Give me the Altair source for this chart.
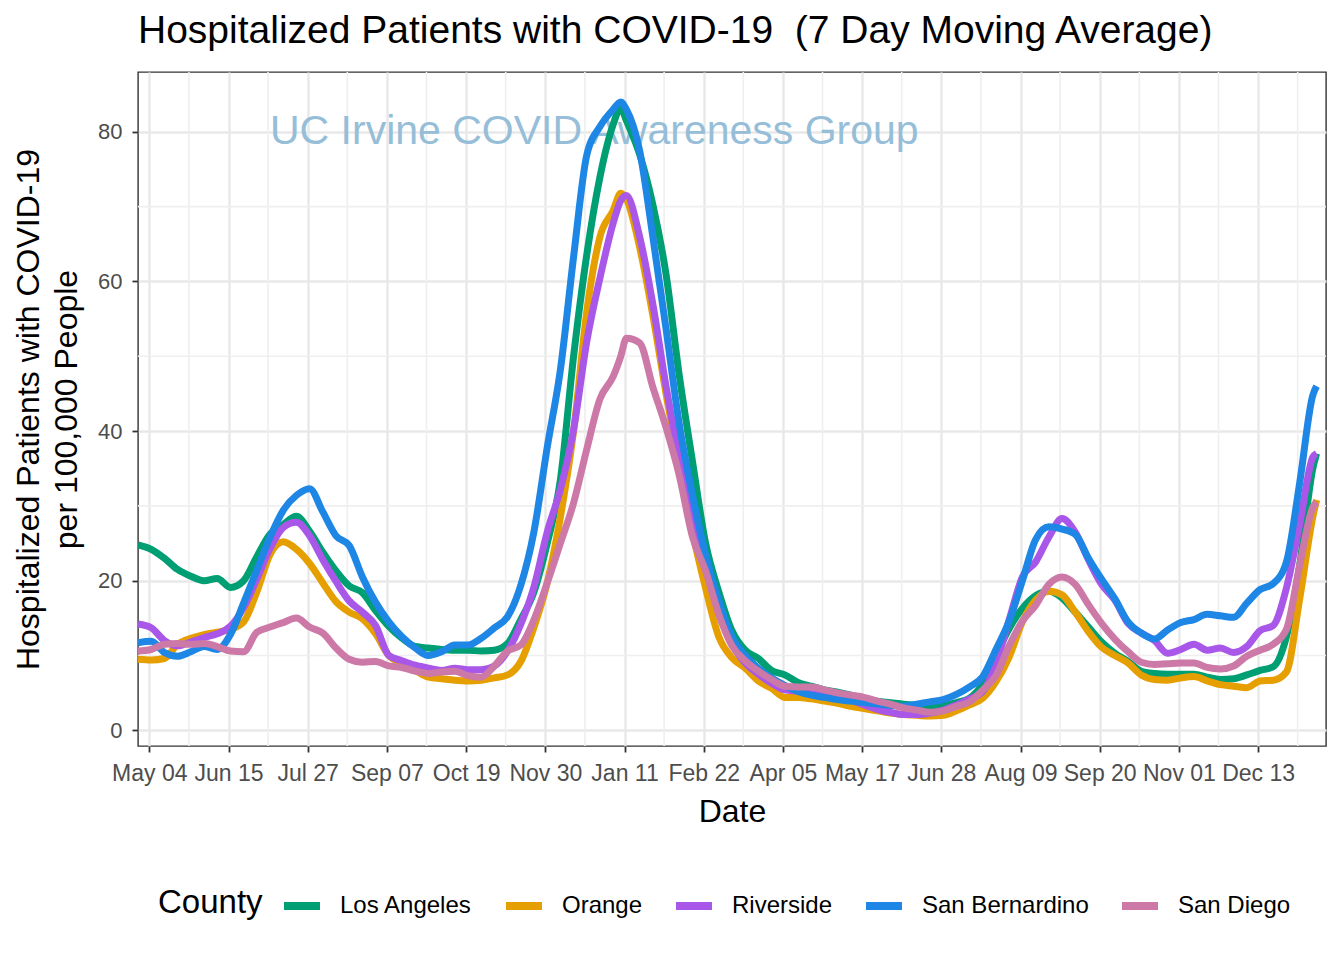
import altair as alt
import pandas as pd

FONT = "Liberation Sans"

counties = ["Los Angeles", "Orange", "Riverside", "San Bernardino", "San Diego"]
colors = ["#009E73", "#E69F00", "#A957E8", "#1E86E5", "#CC79A7"]

# weekly dates from 2020-04-28, plus the January 2021 peak and the last day
weekly = pd.date_range("2020-04-28", periods=90, freq="7D")
dates = (list(weekly[:37]) + [pd.Timestamp("2021-01-09")]
         + list(weekly[37:]) + [pd.Timestamp("2022-01-13")])
date_strs = [d.strftime("%Y-%m-%d") for d in dates]

los_angeles = [
    24.8, 24.2, 23.0, 21.5, 20.6, 20.0, 20.3, 19.1, 20.0, 23.2,
    26.2, 27.5, 28.6, 26.6, 23.8, 21.3, 19.3, 18.4, 16.0, 13.9,
    12.3, 11.2, 11.0, 10.8, 10.7, 10.7, 10.6, 10.7, 11.6, 14.8,
    18.5, 25.0, 33.5, 50.0, 63.6, 74.0, 81.0,
    83.2,
    81.5, 77.0, 70.3,
    61.0, 47.5, 36.0, 25.0, 18.5, 13.3, 10.7, 9.6, 8.0, 7.4,
    6.4, 5.9, 5.4, 5.1, 4.7, 4.2, 3.9, 3.7, 3.5, 3.3,
    3.1, 3.3, 3.7, 4.3, 6.2, 10.0, 13.6, 16.3, 18.0, 18.6,
    17.7, 15.8, 13.8, 11.8, 10.3, 9.2, 7.9, 7.6, 7.5, 7.5,
    7.5, 7.1, 6.8, 6.9, 7.4, 8.0, 8.5, 12.5, 22.0, 35.0,
    37.0,
]
orange = [
    9.5, 9.4, 9.6, 11.5, 12.3, 12.8, 13.1, 13.5, 14.5, 18.5,
    23.5, 25.2, 24.2, 22.3, 19.7, 17.2, 15.8, 14.9, 12.9, 10.0,
    8.9, 8.0, 7.1, 6.9, 6.7, 6.6, 6.7, 7.0, 7.4, 9.2,
    13.8, 19.7, 28.5, 40.0, 56.0, 66.0, 69.5,
    71.8,
    71.0, 64.6, 55.5,
    45.0, 35.3, 26.5, 19.0, 12.5, 9.7, 8.3, 6.6, 5.6, 4.4,
    4.4, 4.2, 3.9, 3.6, 3.2, 2.9, 2.6, 2.3, 2.1, 2.0,
    1.9, 2.0, 2.6, 3.4, 4.3, 6.5, 9.8, 14.5, 17.4, 18.6,
    18.1, 15.8, 13.2, 11.1, 10.0, 9.0, 7.4, 6.8, 6.7, 7.0,
    7.2, 6.6, 6.1, 5.9, 5.7, 6.6, 6.7, 7.8, 17.5, 28.5,
    30.8,
]
riverside = [
    14.2, 13.7, 12.0, 11.3, 11.8, 12.4, 12.9, 13.9, 16.4, 20.2,
    24.3, 27.1, 27.8, 26.0, 22.8, 19.9, 17.3, 15.8, 14.0, 10.0,
    9.3, 8.7, 8.3, 8.0, 8.3, 8.1, 8.1, 8.6, 10.6, 14.2,
    19.2, 26.5, 32.2, 40.2, 52.0, 60.5, 67.8,
    70.8,
    71.5, 66.0, 57.0,
    46.0, 36.4, 28.0, 22.0, 16.0, 11.5, 9.0, 7.5, 6.3, 5.4,
    5.2, 4.9, 4.7, 4.3, 4.0, 3.4, 2.8, 2.4, 2.1, 2.1,
    2.3, 2.7, 3.4, 4.2, 5.2, 8.9, 14.8, 20.5, 22.5, 25.8,
    28.3, 26.5, 22.8, 19.5, 17.4, 14.3, 13.0, 12.0, 10.3, 10.8,
    11.5, 10.7, 11.0, 10.4, 11.2, 13.3, 14.0, 19.0, 27.5, 36.5,
    37.0,
]
san_bernardino = [
    11.7, 11.9, 10.4, 9.9, 10.5, 11.2, 10.8, 12.8, 17.0, 21.4,
    25.8, 29.4, 31.4, 32.3, 29.2, 26.0, 24.7, 20.5, 17.1, 14.5,
    12.5, 11.0, 10.0, 10.5, 11.4, 11.4, 12.3, 13.7, 15.2, 19.4,
    26.6, 37.8, 48.2, 63.3, 76.9, 80.7, 83.0,
    84.0,
    83.0, 77.5, 66.0,
    53.7, 41.0, 31.5, 23.5, 17.3, 12.5, 10.0, 8.3, 7.0, 6.0,
    5.2, 4.7, 4.4, 4.1, 3.9, 3.7, 3.5, 3.3, 3.2, 3.5,
    3.8, 4.1, 4.8, 5.8, 7.2, 10.8, 14.6, 20.0, 25.5, 27.2,
    26.9, 26.2, 23.0, 20.2, 17.6, 14.5, 13.0, 12.2, 13.4, 14.4,
    14.8, 15.5, 15.3, 15.1, 17.0, 18.8, 19.6, 22.5, 33.0, 44.8,
    46.0,
]
san_diego = [
    10.6, 10.8, 11.5, 11.6, 11.5, 11.6, 11.2, 10.6, 10.5, 13.1,
    13.8, 14.4, 15.0, 13.8, 13.0, 11.0, 9.5, 9.1, 9.2, 8.6,
    8.4, 7.9, 7.6, 7.8, 7.9, 7.3, 7.1, 8.6, 10.6, 11.4,
    14.8, 19.7, 25.0, 30.4, 37.6, 44.3, 47.3,
    50.0,
    52.4, 51.8, 45.9,
    40.5, 34.1, 25.9, 21.3, 15.5, 11.3, 9.3, 7.9, 6.8, 5.9,
    5.8, 5.8, 5.4, 5.0, 4.7, 4.4, 3.9, 3.5, 3.0, 2.7,
    2.4, 2.6, 3.2, 3.8, 5.4, 7.3, 11.3, 14.6, 16.7, 19.5,
    20.5, 19.5, 16.8, 14.3, 12.2, 10.5, 9.1, 8.8, 8.9, 9.0,
    9.0, 8.4, 8.2, 8.6, 9.9, 10.7, 11.5, 13.5, 22.0, 29.8,
    30.5,
]

series = [los_angeles, orange, riverside, san_bernardino, san_diego]

major_ticks = ["2020-05-04", "2020-06-15", "2020-07-27", "2020-09-07", "2020-10-19",
               "2020-11-30", "2021-01-11", "2021-02-22", "2021-04-05", "2021-05-17",
               "2021-06-28", "2021-08-09", "2021-09-20", "2021-11-01", "2021-12-13"]
minor_ticks = ["2020-05-25", "2020-07-06", "2020-08-17", "2020-09-28", "2020-11-09",
               "2020-12-21", "2021-02-01", "2021-03-15", "2021-04-26", "2021-06-07",
               "2021-07-19", "2021-08-30", "2021-10-11", "2021-11-22", "2022-01-03"]
y_major = [0, 20, 40, 60, 80]
y_minor = [10, 30, 50, 70]
x_domain = ["2020-04-28", "2022-01-18"]
y_domain = [-2.1, 88.0]

title_text = "Hospitalized Patients with COVID-19\u00a0 (7 Day Moving Average)"
y_title = ["Hospitalized Patients with COVID-19", "per 100,000 People"]
watermark = "UC Irvine COVID Awareness Group"
watermark_at = ("2020-07-07", 80)


def dt(s):
    y, m, d = (int(p) for p in s.split("-"))
    return alt.DateTime(year=y, month=m, date=d, utc=True)


rows = []
for name, vals in zip(counties, series):
    for d, v in zip(date_strs, vals):
        rows.append({"date": d, "value": v, "County": name})
df = pd.DataFrame(rows)

x_scale = alt.Scale(type="utc", domain=[dt(s) for s in x_domain], nice=False)
y_scale = alt.Scale(domain=y_domain, nice=False, zero=False)

x_axis = alt.Axis(values=[dt(s) for s in major_ticks],
                  labelExpr="utcFormat(datum.value, '%b %d')",
                  title="Date", labelOverlap=False, labelFontSize=23,
                  labelBound=False, labelFlush=False, labelPadding=10,
                  titlePadding=11)
y_axis = alt.Axis(values=y_major, title=y_title, titleLineHeight=38,
                  titlePadding=14, labelPadding=10)

minor_x = alt.Chart(pd.DataFrame({"date": minor_ticks})).mark_rule(
    color="#EFEFEF", strokeWidth=1.6
).encode(x=alt.X("date:T", scale=x_scale, axis=x_axis))

minor_y = alt.Chart(pd.DataFrame({"value": y_minor})).mark_rule(
    color="#EFEFEF", strokeWidth=1.6
).encode(y=alt.Y("value:Q", scale=y_scale, axis=y_axis))

wm = alt.Chart(pd.DataFrame({"date": [watermark_at[0]], "value": [watermark_at[1]],
                             "label": [watermark]})).mark_text(
    align="left", baseline="middle", fontSize=41, font=FONT, color="#96BED8"
).encode(
    x=alt.X("date:T", scale=x_scale, axis=x_axis),
    y=alt.Y("value:Q", scale=y_scale, axis=y_axis),
    text="label:N",
)

lines = alt.Chart(df).mark_line(strokeWidth=7, interpolate="monotone", strokeCap="butt",
                                strokeJoin="round", clip=True).encode(
    x=alt.X("date:T", scale=x_scale, axis=x_axis),
    y=alt.Y("value:Q", scale=y_scale, axis=y_axis),
    color=alt.Color("County:N", scale=alt.Scale(domain=counties, range=colors),
                    legend=alt.Legend(orient="none", legendX=20, legendY=812,
                                      direction="horizontal", titleOrient="left",
                                      symbolType="stroke", symbolStrokeWidth=8,
                                      symbolSize=1296, labelFontSize=24,
                                      titleFontSize=33, labelOffset=16,
                                      columnPadding=17, titlePadding=17,
                                      labelLimit=400,
                                      labelFont=FONT, titleFont=FONT,
                                      titleFontWeight="normal", labelColor="black",
                                      titleColor="black", titleBaseline="middle")),
    order=alt.Order("date:T"),
)

chart = alt.layer(minor_x, minor_y, wm, lines).properties(
    width=1188, height=674,
    title=alt.TitleParams(title_text, anchor="start", frame="group", fontSize=39,
                          font=FONT, fontWeight="normal", color="black", offset=20),
    autosize=alt.AutoSizeParams(type="none"),
    padding={"left": 130, "top": 64, "right": 6, "bottom": 210},
).configure_view(
    stroke="#333333", strokeWidth=1.4
).configure_axis(
    gridColor="#E8E8E8", gridWidth=2.4, domain=False, tickColor="#333333",
    tickWidth=1.8, tickSize=6, labelColor="#4D4D4D", labelFont=FONT, labelFontSize=22,
    titleFont=FONT, titleFontSize=32, titleFontWeight="normal", titleColor="black",
)

chart.save("out.html", embed_options={"renderer": "svg", "actions": False})
